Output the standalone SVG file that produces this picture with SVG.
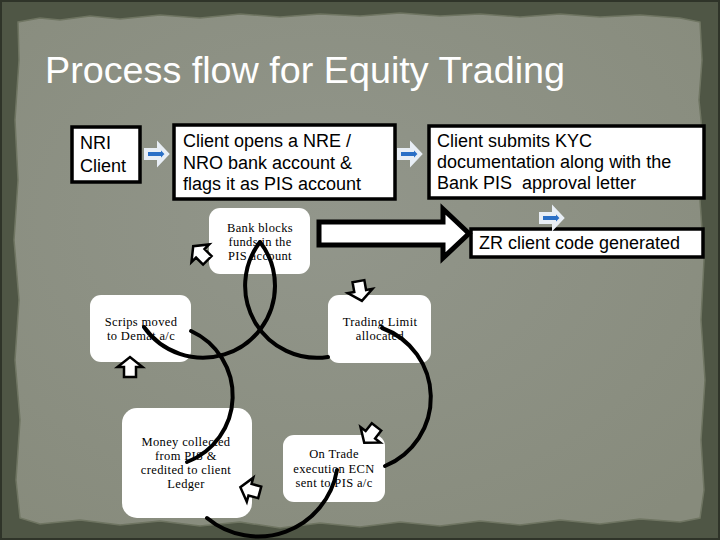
<svg xmlns="http://www.w3.org/2000/svg" width="720" height="540" viewBox="0 0 720 540">
<defs>
<style>
.box{fill:#ffffff;stroke:#000000;stroke-width:3.5}
.rbox{fill:#ffffff;stroke:none}
.sans{font-family:"Liberation Sans",Arial,sans-serif;font-size:18px;fill:#000000}
.serif{font-family:"Liberation Serif","Times New Roman",serif;font-size:12.5px;fill:#000000;text-anchor:middle;letter-spacing:0.35px}
.arc{fill:none;stroke:#000000;stroke-width:4;stroke-linecap:round}
.carrow{fill:#ffffff;stroke:#000000;stroke-width:2.5;stroke-linejoin:miter}
.barrow{fill:#2a6fc6;stroke:#e8eef5;stroke-width:4;stroke-linejoin:miter}
</style>
<radialGradient id="paperGrad" cx="0.45" cy="0.4" r="0.75">
<stop offset="0" stop-color="#92968b"/>
<stop offset="1" stop-color="#878b7c"/>
</radialGradient>
<path id="cyc" d="M-9,-6 L1,-6 L1,-12.5 L11,0 L1,12.5 L1,6 L-9,6 Z"/>
<path id="blu" d="M-10,-4 L3,-4 L3,-8.5 L11,0 L3,8.5 L3,4 L-10,4 Z"/>
</defs>

<g id="background">
<rect x="0" y="0" width="720" height="540" fill="#4f5645"/>
<rect x="1" y="1" width="718" height="538" fill="none" stroke="#2f3429" stroke-width="2"/>
<polygon fill="url(#paperGrad)" stroke="#6f7562" stroke-width="1.5" points="18,22 40,18 60,20 90,16 120,19 160,15 200,18 240,14 280,17 320,14 360,16 400,13 440,16 480,14 520,17 560,14 600,17 640,15 680,18 700,22 702,60 699,100 703,140 700,200 704,260 701,320 705,380 701,440 704,490 700,518 680,522 640,519 600,524 560,520 520,525 480,521 440,526 400,522 360,527 320,523 280,528 240,522 200,526 160,521 120,525 80,520 40,524 20,518 16,480 20,420 15,360 19,300 14,240 18,180 15,120 19,60"/>
</g>

<text id="title" x="45" y="83" font-family="'Liberation Sans',Arial,sans-serif" font-size="37.5" fill="#ffffff" textLength="520" lengthAdjust="spacingAndGlyphs">Process flow for Equity Trading</text>

<g id="node-nri">
<rect class="box" x="72" y="127" width="68" height="55"/>
<text class="sans" x="80" y="149">NRI</text>
<text class="sans" x="80" y="172">Client</text>
</g>

<g id="node-open-account">
<rect class="box" x="174" y="125" width="221" height="74"/>
<text class="sans" x="183" y="147">Client opens a NRE /</text>
<text class="sans" x="183" y="169">NRO bank account &amp;</text>
<text class="sans" x="183" y="190">flags it as PIS account</text>
</g>

<g id="node-kyc">
<rect class="box" x="429" y="126" width="275" height="72"/>
<text class="sans" x="437" y="147">Client submits KYC</text>
<text class="sans" x="437" y="168">documentation along with the</text>
<text class="sans" x="437" y="189" xml:space="preserve">Bank PIS  approval letter</text>
</g>

<g id="node-zr">
<rect class="box" x="471" y="229" width="232" height="28"/>
<text class="sans" x="479" y="249">ZR client code generated</text>
</g>

<g id="node-bank-blocks">
<rect class="rbox" x="209" y="208" width="101" height="66" rx="11"/>
<text class="serif" x="260" y="232">Bank blocks</text>
<text class="serif" x="260" y="246">funds in the</text>
<text class="serif" x="260" y="260">PIS account</text>
</g>

<g id="node-trading-limit">
<rect class="rbox" x="328" y="295" width="103" height="68" rx="11"/>
<text class="serif" x="380" y="326">Trading Limit</text>
<text class="serif" x="380" y="340">allocated</text>
</g>

<g id="node-on-trade">
<rect class="rbox" x="283" y="435" width="102" height="67" rx="11"/>
<text class="serif" x="334" y="458">On Trade</text>
<text class="serif" x="334" y="473">execution ECN</text>
<text class="serif" x="334" y="487">sent to PIS a/c</text>
</g>

<g id="node-money">
<rect class="rbox" x="122" y="408" width="130" height="110" rx="15"/>
<text class="serif" x="186" y="446">Money collected</text>
<text class="serif" x="186" y="460">from PIS &amp;</text>
<text class="serif" x="186" y="474">credited to client</text>
<text class="serif" x="186" y="488">Ledger</text>
</g>

<g id="node-scrips">
<rect class="rbox" x="90" y="295" width="101" height="67" rx="11"/>
<text class="serif" x="141" y="326">Scrips moved</text>
<text class="serif" x="141" y="340">to Demat a/c</text>
</g>

<g id="connectors">
<path class="arc" d="M260,242 A72,72 0 0,0 328,357"/>
<path class="arc" d="M382,328 A74,74 0 0,1 385,466"/>
<path class="arc" d="M337,470 A80,80 0 0,1 207,518"/>
<path class="arc" d="M187,462 A71,71 0 0,0 191,331"/>
<path class="arc" d="M144,327 A72,72 0 0,0 275,286 A72,72 0 0,0 260,242"/>
<polygon fill="#ffffff" stroke="#000000" stroke-width="5" stroke-linejoin="miter" points="319,222 443,222 443,209 469,233.5 443,258 443,245 319,245"/>
<use href="#blu" class="barrow" transform="translate(156,154)"/>
<use href="#blu" class="barrow" transform="translate(409,154)"/>
<use href="#blu" class="barrow" transform="translate(551,218)"/>
<use href="#cyc" class="carrow" transform="translate(360,290) rotate(80)"/>
<use href="#cyc" class="carrow" transform="translate(371,434) rotate(128)"/>
<use href="#cyc" class="carrow" transform="translate(251,490) rotate(195)"/>
<use href="#cyc" class="carrow" transform="translate(130,368) rotate(-90)"/>
<use href="#cyc" class="carrow" transform="translate(201,254) rotate(-135)"/>
</g>
</svg>
